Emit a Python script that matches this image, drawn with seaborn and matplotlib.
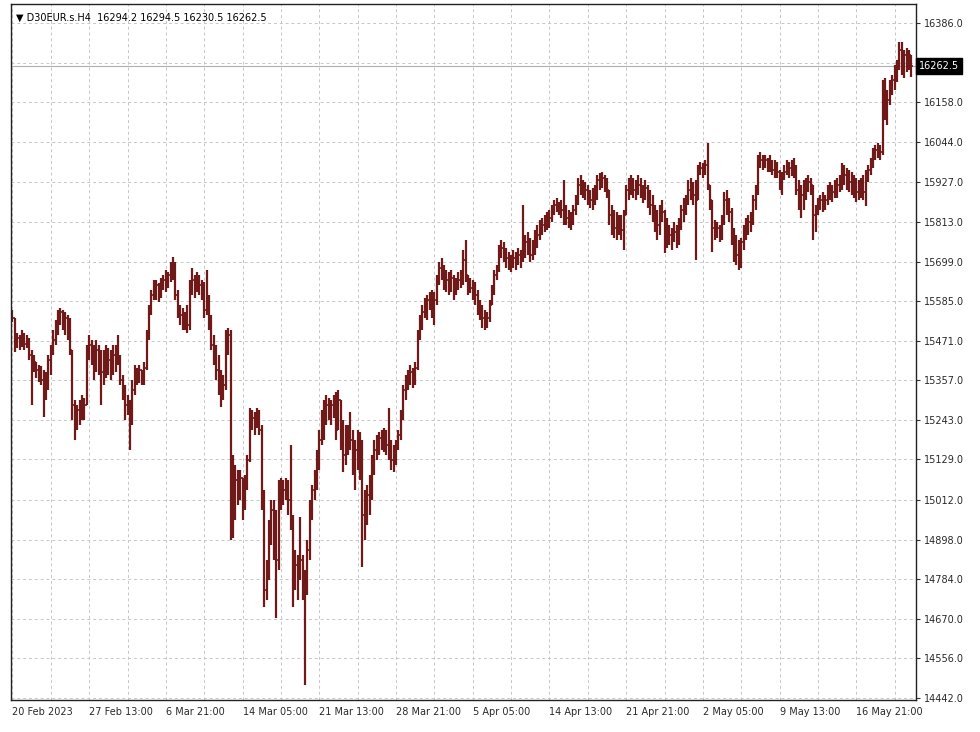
import numpy as np
import pandas as pd
import matplotlib
matplotlib.use("Agg")
import matplotlib.pyplot as plt
import seaborn as sns

# Dados (D30EUR, H4, 20 Fev - 19 Mai 2023)
symbol = "D30EUR.s.H4"
first_open = 15545.0

highs = [
    15559, 15536, 15493, 15487, 15502, 15493, 15487, 15479, 15444, 15430,
    15409, 15401, 15398, 15386, 15381, 15430, 15458, 15502, 15530, 15559,
    15565, 15559, 15553, 15545, 15536, 15444, 15300, 15286, 15300, 15314,
    15306, 15458, 15487, 15473, 15458, 15473, 15458, 15444, 15444, 15458,
    15450, 15444, 15458, 15458, 15487, 15430, 15372, 15343, 15314, 15300,
    15358, 15401, 15392, 15401, 15386, 15409, 15502, 15574, 15617, 15646,
    15646, 15637, 15651, 15660, 15674, 15669, 15697, 15712, 15697, 15617,
    15574, 15565, 15553, 15574, 15646, 15680, 15660, 15669, 15660, 15646,
    15640, 15674, 15602, 15545, 15487, 15458, 15430, 15386, 15372, 15502,
    15507, 15502, 15142, 15113, 15098, 15098, 15070, 15084, 15142, 15277,
    15271, 15266, 15277, 15271, 15228, 15041, 14839, 14954, 15012, 15012,
    14983, 15070, 15075, 15070, 15075, 15070, 15170, 14969, 14868, 14854,
    14963, 14854, 14810, 14897, 15012, 15055, 15098, 15156, 15214, 15271,
    15300, 15314, 15306, 15300, 15314, 15323, 15329, 15300, 15242, 15228,
    15228, 15266, 15214, 15185, 15214, 15208, 15185, 15041, 15055, 15084,
    15142, 15185, 15199, 15208, 15214, 15219, 15214, 15277, 15185, 15170,
    15185, 15214, 15271, 15343, 15372, 15386, 15401, 15392, 15409, 15502,
    15545, 15574, 15594, 15602, 15611, 15617, 15611, 15660, 15697, 15709,
    15689, 15674, 15669, 15674, 15660, 15651, 15669, 15674, 15732, 15761,
    15660, 15651, 15646, 15640, 15617, 15588, 15574, 15559, 15553, 15588,
    15631, 15674, 15689, 15746, 15761, 15755, 15738, 15726, 15718, 15732,
    15726, 15738, 15732, 15862, 15775, 15784, 15767, 15761, 15790, 15804,
    15818, 15824, 15833, 15841, 15847, 15862, 15876, 15882, 15870, 15876,
    15934, 15862, 15847, 15841, 15862, 15890, 15939, 15948, 15934, 15928,
    15919, 15905, 15911, 15919, 15948, 15954, 15957, 15948, 15939, 15905,
    15862, 15847, 15841, 15833, 15833, 15847, 15919, 15939, 15948, 15939,
    15934, 15948, 15939, 15919, 15934, 15919, 15905, 15890, 15862, 15847,
    15862, 15876, 15847, 15824, 15804, 15795, 15813, 15804, 15824, 15862,
    15882, 15890, 15934, 15939, 15928, 15934, 15977, 15985, 15983, 15991,
    16040, 15919, 15876, 15818, 15813, 15804, 15833, 15899, 15905, 15882,
    15853, 15795, 15775, 15761, 15767, 15804, 15824, 15833, 15841, 15890,
    15919, 16006, 16014, 16006, 16006, 15997, 16006, 15991, 15991, 15985,
    15962, 15957, 15977, 15991, 15985, 15991, 15997, 15977, 15934, 15919,
    15934, 15939, 15948, 15939, 15919, 15862, 15882, 15890, 15899, 15890,
    15919, 15928, 15919, 15934, 15939, 15948, 15983, 15977, 15968, 15962,
    15957, 15948, 15939, 15934, 15939, 15948, 15962, 15977, 15997, 16026,
    16034, 16040, 16034, 16222, 16227, 16193, 16222, 16236, 16265, 16279,
    16331, 16331, 16308, 16314, 16308, 16294.5,
]

lows = [
    15525, 15438, 15450, 15444, 15453, 15444, 15450, 15415, 15286, 15381,
    15363, 15352, 15343, 15251, 15300, 15329, 15372, 15430, 15458, 15487,
    15516, 15502, 15487, 15473, 15430, 15242, 15185, 15214, 15228, 15242,
    15242, 15286, 15415, 15401, 15358, 15381, 15372, 15286, 15343, 15363,
    15372, 15358, 15372, 15381, 15401, 15343, 15300, 15242, 15257, 15156,
    15228, 15314, 15343, 15349, 15343, 15343, 15386, 15473, 15545, 15588,
    15588, 15582, 15594, 15617, 15611, 15623, 15640, 15646, 15588, 15536,
    15516, 15502, 15502, 15493, 15502, 15602, 15594, 15611, 15602, 15588,
    15536, 15545, 15502, 15444, 15401, 15358, 15314, 15280, 15300, 15329,
    15430, 14897, 14903, 14954, 14998, 15012, 14954, 14983, 15041, 15121,
    15214, 15199, 15219, 15199, 14983, 14704, 14724, 14782, 14882, 14839,
    14672, 14810, 14983, 14998, 15012, 14969, 14926, 14704, 14753, 14724,
    14782, 14724, 14479, 14738, 14839, 14954, 15012, 15041, 15098, 15170,
    15185, 15228, 15242, 15228, 15248, 15185, 15214, 15156, 15093, 15113,
    15142, 15156, 15084, 15041, 15098, 15070, 14819, 14897, 14940, 14969,
    15012, 15084, 15127, 15142, 15156, 15150, 15142, 15127, 15098, 15093,
    15113, 15156, 15185, 15242, 15300, 15329, 15343, 15334, 15343, 15386,
    15473, 15502, 15536, 15530, 15559, 15536, 15516, 15574, 15631, 15646,
    15617, 15611, 15602, 15611, 15588, 15602, 15617, 15623, 15631, 15640,
    15602, 15608, 15588, 15574, 15545, 15530, 15507, 15502, 15507, 15525,
    15574, 15602, 15646, 15669, 15709, 15697, 15680, 15674, 15669, 15680,
    15674, 15689, 15680, 15697, 15709, 15718, 15697, 15703, 15718, 15738,
    15761, 15775, 15784, 15790, 15795, 15813, 15833, 15841, 15833, 15824,
    15804, 15804, 15795, 15790, 15804, 15833, 15862, 15890, 15882, 15876,
    15862, 15853, 15847, 15862, 15876, 15905, 15911, 15899, 15882, 15804,
    15775, 15767, 15761, 15775, 15761, 15732, 15833, 15876, 15890, 15882,
    15876, 15890, 15882, 15867, 15876, 15853, 15833, 15813, 15784, 15761,
    15775, 15813, 15723, 15738, 15746, 15732, 15755, 15738, 15746, 15790,
    15813, 15833, 15862, 15876, 15862, 15703, 15876, 15948, 15939, 15948,
    15905, 15847, 15726, 15761, 15767, 15755, 15761, 15804, 15833, 15813,
    15746, 15697, 15689, 15674, 15680, 15732, 15761, 15775, 15784, 15804,
    15847, 15890, 15968, 15962, 15968, 15957, 15957, 15948, 15939, 15939,
    15905, 15890, 15934, 15948, 15939, 15945, 15939, 15890, 15847, 15824,
    15847, 15876, 15899, 15890, 15761, 15784, 15833, 15847, 15841, 15847,
    15862, 15876, 15870, 15882, 15882, 15899, 15905, 15919, 15905, 15899,
    15890, 15882, 15870, 15876, 15882, 15876, 15859, 15928, 15948, 15968,
    15991, 15997, 15991, 16006, 16106, 16092, 16150, 16178, 16193, 16216,
    16250, 16236, 16227, 16245, 16250, 16230.5,
]

closes = [
    15536, 15458, 15479, 15458, 15487, 15461, 15473, 15430, 15386, 15409,
    15386, 15372, 15358, 15314, 15358, 15415, 15444, 15473, 15507, 15545,
    15553, 15530, 15536, 15516, 15444, 15286, 15242, 15271, 15257, 15300,
    15286, 15444, 15458, 15430, 15386, 15444, 15415, 15381, 15401, 15430,
    15415, 15386, 15430, 15444, 15415, 15358, 15314, 15286, 15286, 15242,
    15329, 15381, 15372, 15386, 15363, 15392, 15487, 15559, 15602, 15623,
    15631, 15602, 15640, 15646, 15631, 15660, 15674, 15680, 15602, 15559,
    15545, 15530, 15536, 15516, 15617, 15646, 15631, 15646, 15631, 15611,
    15559, 15588, 15530, 15458, 15430, 15386, 15358, 15329, 15343, 15473,
    15487, 15098, 15041, 15070, 15026, 15075, 15012, 15055, 15127, 15242,
    15248, 15228, 15257, 15214, 15026, 14753, 14796, 14926, 14983, 14897,
    14839, 15041, 15055, 15041, 15055, 15012, 14954, 14839, 14825, 14810,
    14839, 14767, 14753, 14868, 14983, 15041, 15070, 15127, 15185, 15257,
    15271, 15286, 15271, 15286, 15294, 15214, 15300, 15185, 15142, 15185,
    15199, 15185, 15127, 15156, 15185, 15098, 14969, 14998, 15026, 15055,
    15113, 15156, 15170, 15191, 15185, 15199, 15170, 15156, 15127, 15142,
    15170, 15199, 15257, 15329, 15358, 15363, 15381, 15372, 15392, 15487,
    15530, 15553, 15574, 15588, 15594, 15602, 15588, 15646, 15680, 15669,
    15660, 15646, 15631, 15651, 15617, 15637, 15646, 15657, 15703, 15660,
    15631, 15623, 15611, 15602, 15574, 15553, 15536, 15525, 15536, 15574,
    15617, 15660, 15680, 15732, 15738, 15718, 15709, 15697, 15689, 15709,
    15697, 15718, 15709, 15732, 15755, 15746, 15718, 15738, 15761, 15775,
    15795, 15804, 15813, 15818, 15824, 15847, 15862, 15862, 15853, 15847,
    15841, 15824, 15818, 15813, 15847, 15876, 15919, 15928, 15911, 15905,
    15890, 15876, 15882, 15890, 15934, 15939, 15939, 15928, 15905, 15833,
    15818, 15795, 15804, 15813, 15790, 15833, 15905, 15919, 15928, 15905,
    15911, 15919, 15905, 15890, 15911, 15876, 15862, 15833, 15818, 15804,
    15833, 15841, 15775, 15767, 15775, 15761, 15784, 15755, 15804, 15847,
    15862, 15876, 15905, 15919, 15890, 15876, 15962, 15968, 15962, 15977,
    15919, 15876, 15795, 15790, 15795, 15775, 15818, 15876, 15862, 15841,
    15761, 15746, 15718, 15732, 15755, 15784, 15804, 15813, 15824, 15876,
    15905, 15991, 15991, 15983, 15991, 15977, 15968, 15962, 15968, 15957,
    15928, 15939, 15957, 15977, 15968, 15962, 15948, 15905, 15876, 15890,
    15899, 15919, 15928, 15919, 15833, 15841, 15862, 15876, 15862, 15876,
    15890, 15905, 15899, 15911, 15919, 15934, 15962, 15948, 15934, 15928,
    15919, 15905, 15899, 15890, 15911, 15899, 15939, 15962, 15985, 16014,
    16020, 16026, 16014, 16207, 16135, 16164, 16199, 16222, 16245, 16265,
    16308, 16279, 16294, 16285, 16294.2, 16262.5,
]

ytick_values = [16386.0, 16158.0, 16044.0, 15927.0, 15813.0, 15699.0, 15585.0,
                15471.0, 15357.0, 15243.0, 15129.0, 15012.0, 14898.0, 14784.0,
                14670.0, 14556.0, 14442.0]
hidden_grid_value = 16272.0  # linha de grade coberta pela etiqueta do preço
xtick_labels = ["20 Feb 2023", "27 Feb 13:00", "6 Mar 21:00", "14 Mar 05:00",
                "21 Mar 13:00", "28 Mar 21:00", "5 Apr 05:00", "14 Apr 13:00",
                "21 Apr 21:00", "2 May 05:00", "9 May 13:00", "16 May 21:00"]
bars_per_label = 32

assert len(highs) == len(lows) == len(closes)

# Montar tabela OHLC (abertura = fechamento da barra anterior)
df = pd.DataFrame({"high": highs, "low": lows, "close": closes})
df["open"] = [first_open] + closes[:-1]
df["x"] = np.arange(len(df))
df["top"] = df[["high", "open", "close"]].max(axis=1)
df["bottom"] = df[["low", "open", "close"]].min(axis=1)

# Estilo
sns.set_style("white")
plt.rcParams['font.family'] = ['DejaVu Sans']
plt.rcParams['font.size'] = 7

bar_color = '#6f1919'
grid_color = '#c6c6c6'
text_color = '#2a2a2a'

fig = plt.figure(figsize=(9.8, 7.32), dpi=100)
ax = fig.add_axes([11 / 980, 1 - 700 / 732, 905 / 980, 696 / 732])

# Barras OHLC
ax.vlines(df["x"], df["bottom"], df["top"], color=bar_color, linewidth=1.6)
ax.hlines(df["open"], df["x"] - 0.5, df["x"], color=bar_color, linewidth=1.2)
ax.hlines(df["close"], df["x"], df["x"] + 0.5, color=bar_color, linewidth=1.2)

# Linha do último preço
last_close = closes[-1]
ax.axhline(last_close, color='#b0b0b0', linewidth=0.8, zorder=1)

ax.set_xlim(-0.6, len(df) + 0.9)
ax.set_ylim(14436, 16441)

# Eixo Y à direita
ax.yaxis.tick_right()
ax.set_yticks(ytick_values + [hidden_grid_value])
ax.set_yticklabels([f"{v:.1f}" for v in ytick_values] + [""])

# Eixo X com rótulos a cada 32 barras
major_x = [i * bars_per_label for i in range(len(xtick_labels))]
ax.set_xticks(major_x)
ax.set_xticklabels(xtick_labels, ha='left')
ax.set_xticks(np.arange(bars_per_label // 2, len(df), bars_per_label), minor=True)

ax.tick_params(axis='both', which='major', length=3, width=0.8, color='#333333',
               labelsize=7, labelcolor=text_color, direction='out')
ax.tick_params(axis='x', which='minor', length=2, width=0.6, color='#777777')
ax.tick_params(axis='x', pad=2)
ax.tick_params(axis='y', pad=3)

# Grade pontilhada
ax.grid(True, which='both', axis='both', color=grid_color,
        linestyle=(0, (3, 3)), linewidth=0.7)
ax.set_axisbelow(True)

for spine in ax.spines.values():
    spine.set_color('#222222')
    spine.set_linewidth(1.0)

# Etiqueta do preço atual
ax.annotate(f"{last_close:.1f}", xy=(1.0, last_close),
            xycoords=('axes fraction', 'data'), xytext=(2, 0),
            textcoords='offset points', ha='left', va='center',
            fontsize=7, color='white',
            bbox=dict(boxstyle='square,pad=0.3', fc='black', ec='black'))

# Cabeçalho do símbolo
header = (f"\u25bc {symbol}  {df['open'].iloc[-1]:.1f} {highs[-1]:.1f} "
          f"{lows[-1]:.1f} {last_close:.1f}")
ax.text(0.0055, 0.988, header, transform=ax.transAxes, ha='left', va='top',
        fontsize=7, color='black')

fig.savefig('out.png', dpi=100)
plt.close(fig)
